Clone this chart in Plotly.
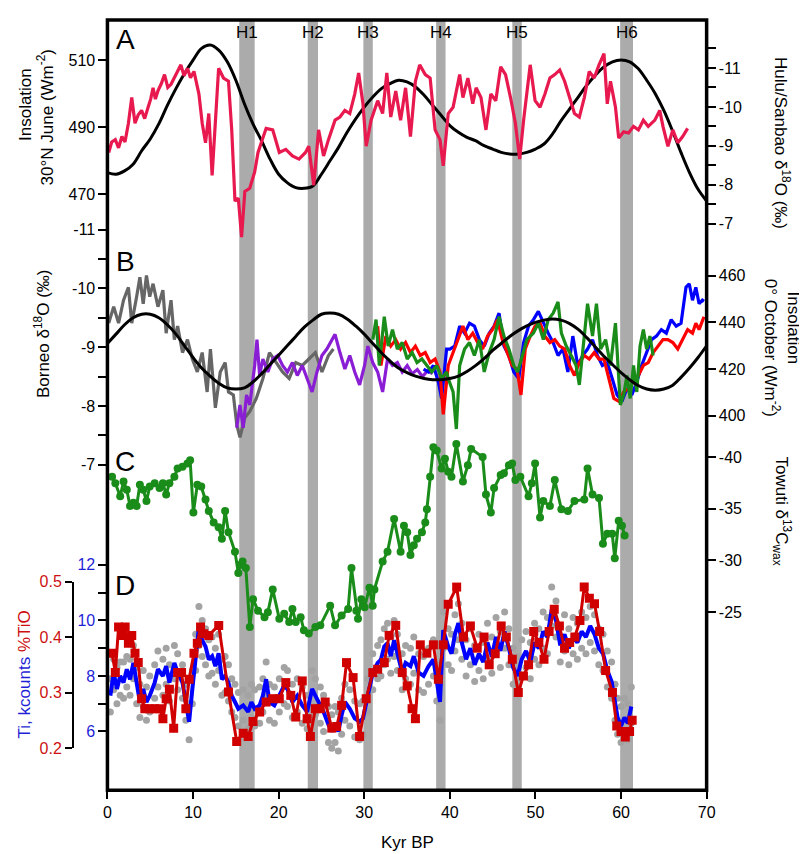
import plotly.graph_objects as go

# ---------------- DATA ----------------
heinrich_labels = ["H1", "H2", "H3", "H4", "H5", "H6"]
heinrich_start = [15.4, 23.4, 29.9, 38.4, 47.3, 59.9]
heinrich_end = [17.2, 24.6, 31.0, 39.5, 48.4, 61.4]

insol_kyr = list(range(0, 71))
insol_june30n = [476.5, 476, 477, 479, 483, 486.5, 491, 496.5, 501.5, 506, 510, 513.5, 514.5, 513, 509.5, 504,
                 497, 491, 486, 480.5, 476, 473.5, 472, 471.8, 472.5, 476, 480, 484, 488.5, 492.5, 496, 499,
                 501.5, 503, 504, 503.5, 502, 499.5, 496.5, 493.5, 490.5, 488.5, 487, 486, 484.5, 483.5, 482.5,
                 482, 482, 482.5, 483.5, 485, 488, 492, 495.5, 499, 502.5, 505.5, 508, 509.5, 510, 509.5, 507.5,
                 504, 500, 495, 489, 482.5, 476.5, 471.5, 468]
insol_oct0 = [431, 435, 439, 442, 443.5, 443.5, 442, 439, 435, 430, 425, 420.5, 417, 414, 412, 411.5, 412, 414.5,
              418, 422, 426, 430, 434, 438, 441, 443.5, 444, 443.5, 441.5, 438.5, 435, 431, 427, 423.5, 420.5,
              418.5, 417, 416, 415.5, 415.5, 416, 417, 419, 421.5, 424.5, 428, 431, 434, 436.5, 438.5, 440, 441,
              441.5, 441, 439.5, 437, 433.5, 429.5, 425.5, 422, 418.5, 415.5, 413, 411.5, 411, 411.5, 413, 416.5,
              420.5, 425, 430]

hulu = [(0.15, -8.83), (0.5, -9.1), (0.92, -9.16), (1.3, -8.95), (1.69, -9.24), (2.05, -9.1), (2.45, -9.58),
        (2.84, -10.24), (3.22, -9.58), (3.6, -9.8), (3.99, -9.91), (4.35, -9.7), (4.75, -9.99), (5.05, -10.2),
        (5.33, -10.49), (5.6, -10.2), (5.9, -10.41), (6.3, -10.6), (6.67, -10.83), (7.05, -10.5), (7.43, -10.58),
        (8.0, -10.85), (8.58, -11.08), (8.95, -10.8), (9.35, -10.99), (9.7, -10.75), (10.11, -10.91),
        (10.69, -10.33), (11.07, -9.58), (11.46, -9.08), (11.84, -9.83), (12.23, -8.24),
        (12.61, -9.58), (12.99, -10.99), (13.56, -10.74), (14.14, -10.66), (14.52, -9.41), (14.9, -7.58),
        (15.29, -7.66), (15.67, -6.66), (16.05, -7.83), (16.63, -7.91), (17.2, -8.33), (17.59, -8.83),
        (17.97, -9.08), (18.54, -9.45), (19.31, -9.41), (20.08, -8.83), (20.84, -8.91), (21.61, -8.74),
        (22.38, -8.66), (23.14, -8.83), (23.52, -8.99), (24.1, -7.99), (24.67, -9.41), (25.25, -8.74),
        (25.82, -9.16), (26.59, -9.66), (27.16, -9.74), (27.74, -9.91), (28.31, -9.83), (28.89, -10.33),
        (29.35, -10.87), (29.85, -10.08), (30.23, -8.99), (30.8, -9.66), (31.57, -10.16), (32.15, -9.83),
        (32.64, -10.87), (33.1, -9.74), (33.68, -10.41), (34.25, -9.66), (34.83, -10.49), (35.4, -9.24),
        (35.98, -10.66), (36.48, -11.08), (37.13, -10.83), (37.7, -10.74), (38.28, -9.41), (38.85, -9.16),
        (39.23, -8.49), (39.81, -9.83), (40.38, -9.99), (41.15, -10.83), (41.53, -10.24), (42.11, -10.74),
        (42.68, -10.08), (43.07, -10.49), (43.64, -10.24), (44.22, -9.41), (44.79, -10.33), (45.37, -10.16),
        (45.94, -11.03), (46.51, -10.83), (47.09, -10.24), (47.66, -9.58), (48.16, -8.66), (48.62, -9.66),
        (49.39, -11.08), (49.96, -10.16), (50.54, -9.99), (51.11, -10.33), (51.69, -10.74), (52.26, -10.83),
        (52.84, -10.95), (53.41, -10.66), (53.99, -10.24), (54.56, -9.83), (55.13, -9.74), (55.71, -10.24),
        (56.28, -10.91), (56.86, -10.74), (57.43, -11.08), (58.01, -11.37), (58.39, -10.08), (58.77, -10.66),
        (59.35, -9.99), (59.73, -9.2), (60.31, -9.36), (60.88, -9.33), (61.46, -9.5), (62.03, -9.41),
        (62.61, -9.66), (63.18, -9.5), (63.95, -9.66), (64.52, -9.91), (64.9, -9.5), (65.48, -8.99),
        (66.05, -9.41), (66.63, -9.08), (67.2, -9.24), (67.78, -9.45)]

borneo_gray = [(0.15, -9.41), (0.73, -9.69), (1.3, -9.41), (1.88, -9.8), (2.45, -10.02), (2.84, -9.41),
               (3.41, -9.86), (3.79, -10.19), (4.18, -9.74), (4.56, -10.22), (4.94, -9.86), (5.33, -10.08),
               (5.9, -9.69), (6.48, -9.97), (6.86, -9.24), (7.43, -9.8), (7.82, -9.13), (8.2, -9.36), (8.77, -8.91),
               (9.35, -9.13), (9.92, -8.8), (10.5, -8.58), (11.07, -8.91), (11.65, -8.24), (12.03, -8.97),
               (12.61, -7.97), (13.18, -8.58), (13.76, -8.74), (14.14, -8.24), (14.71, -8.19), (15.1, -7.69),
               (15.48, -7.47), (16.05, -7.8), (16.63, -7.91), (17.39, -8.13), (18.16, -8.47), (18.93, -8.91),
               (19.7, -8.74), (20.46, -8.58), (21.23, -8.47), (22.0, -8.74), (22.76, -8.69), (23.52, -8.8),
               (24.29, -8.91), (25.06, -8.58), (25.82, -8.86), (26.4, -8.97)]

borneo_purple = [(15.1, -7.63), (15.48, -8.02), (15.86, -7.63), (16.25, -8.19), (16.63, -8.02), (17.2, -8.69),
                 (17.47, -9.13), (17.78, -8.52), (18.16, -8.8), (18.74, -8.58), (19.31, -8.8), (19.89, -8.86),
                 (20.46, -8.69), (21.03, -8.58), (21.61, -8.74), (22.18, -8.52), (22.76, -8.69), (23.33, -8.47),
                 (23.91, -8.24), (24.48, -8.58), (25.06, -8.86), (25.63, -8.97), (26.21, -9.13), (26.59, -9.22),
                 (27.16, -8.91), (27.74, -8.63), (28.31, -8.86), (28.89, -8.58), (29.46, -8.36), (30.04, -8.69),
                 (30.42, -9.02), (30.99, -8.74), (31.57, -8.58), (32.15, -8.24), (32.72, -8.8), (33.3, -8.69),
                 (33.87, -8.74), (34.44, -8.58), (35.02, -8.69), (35.6, -8.55), (36.2, -8.62), (36.8, -8.5),
                 (37.4, -8.6), (38.0, -8.55)]

borneo_blue = [(36.93, -8.63), (37.51, -8.58), (38.08, -8.69), (38.66, -8.41), (39.04, -8.13), (39.62, -8.97),
               (40.0, -8.97), (40.57, -9.02), (41.15, -9.36), (41.72, -9.24), (42.3, -9.41), (42.87, -9.36),
               (43.45, -9.13), (44.02, -9.02), (44.6, -9.24), (45.17, -9.36), (45.75, -9.58), (46.32, -9.02),
               (46.9, -8.86), (47.47, -8.58), (48.05, -8.47), (48.62, -9.08), (49.2, -9.36), (49.77, -9.47),
               (50.34, -9.61), (50.92, -9.41), (51.49, -9.24), (52.07, -9.08), (52.64, -8.86), (53.22, -8.97),
               (53.79, -8.58), (54.37, -9.19), (54.94, -8.69), (55.52, -8.86), (56.09, -8.97), (56.67, -9.13),
               (57.24, -8.86), (57.82, -8.69), (58.39, -8.74), (58.97, -8.47), (59.54, -8.19), (60.11, -8.08),
               (60.69, -8.3), (61.26, -8.19), (61.84, -8.41), (62.41, -8.69), (62.99, -8.91), (63.56, -9.13),
               (64.14, -9.19), (64.71, -9.3), (65.29, -9.24), (65.86, -9.47), (66.44, -9.36), (67.01, -9.41),
               (67.59, -10.02), (67.97, -10.08), (68.35, -9.8), (68.74, -10.02), (69.12, -9.74), (69.5, -9.8),
               (69.69, -9.78)]

borneo_red = [(31.57, -9.36), (31.95, -8.69), (32.53, -9.19), (33.1, -9.02), (33.68, -9.13), (34.25, -8.97),
              (34.83, -9.08), (35.4, -8.91), (35.98, -9.02), (36.55, -8.86), (37.13, -8.91), (37.7, -8.74),
              (38.28, -8.8), (38.85, -8.58), (39.23, -7.86), (39.62, -8.52), (39.81, -8.69), (40.38, -8.91),
              (40.96, -9.13), (41.53, -9.36), (42.11, -9.13), (42.68, -9.24), (43.26, -9.08), (43.83, -8.97),
              (44.41, -9.19), (44.98, -9.3), (45.56, -9.47), (46.13, -9.13), (46.71, -8.91), (47.28, -8.69),
              (47.85, -8.63), (48.31, -8.19), (48.81, -8.97), (49.39, -9.19), (49.96, -9.36), (50.54, -9.41),
              (51.11, -9.19), (51.69, -9.08), (52.26, -9.13), (52.84, -9.02), (53.41, -8.97), (53.99, -8.69),
              (54.56, -8.52), (55.13, -8.74), (55.71, -8.86), (56.28, -8.8), (56.86, -8.91), (57.43, -8.8),
              (58.01, -8.8), (58.58, -8.47), (59.16, -8.13), (59.73, -8.08), (60.31, -8.24), (60.88, -8.3),
              (61.46, -8.41), (62.03, -8.52), (62.61, -8.69), (63.18, -8.74), (63.75, -8.91), (64.33, -9.02),
              (64.9, -9.13), (65.48, -9.13), (66.05, -9.08), (66.63, -8.97), (67.2, -9.13), (67.78, -9.3),
              (68.35, -9.24), (68.74, -9.41), (69.12, -9.3), (69.69, -9.52)]

borneo_green = [(31.0, -9.13), (31.38, -9.47), (31.76, -8.69), (32.34, -9.52), (32.8, -9.02), (33.3, -9.3),
                (33.87, -8.97), (34.44, -9.08), (35.02, -8.8), (35.59, -8.91), (36.17, -8.74), (36.74, -8.8),
                (37.32, -8.69), (37.89, -8.58), (38.47, -8.69), (39.04, -8.47), (39.62, -8.58), (39.81, -8.47),
                (40.38, -8.24), (40.76, -7.61), (41.15, -8.69), (41.72, -8.97), (42.3, -9.08), (42.87, -8.86),
                (43.45, -9.13), (44.02, -8.58), (44.6, -8.91), (45.17, -9.13), (45.75, -9.52), (46.32, -9.19),
                (46.9, -8.97), (47.47, -8.69), (47.93, -8.58), (49.0, -9.13), (49.77, -9.24), (50.34, -9.41),
                (50.92, -9.13), (51.49, -9.47), (52.07, -9.58), (52.64, -9.77), (53.03, -9.24), (53.6, -9.02),
                (54.18, -8.86), (54.75, -8.69), (55.13, -8.36), (55.52, -8.97), (56.09, -9.74), (56.67, -9.19),
                (57.13, -9.74), (57.62, -8.97), (58.2, -9.13), (58.77, -8.69), (59.35, -9.41), (59.92, -8.02),
                (60.31, -8.19), (60.69, -8.52), (61.07, -8.13), (61.46, -8.69), (61.84, -8.24), (62.22, -9.02),
                (62.61, -9.3), (62.99, -8.97), (63.37, -9.19), (63.75, -8.86)]

towuti = [(0.54, -38.1), (0.92, -37.46), (1.49, -36.2), (1.88, -37.63), (2.26, -36.84), (2.64, -35.25),
          (3.03, -35.57), (3.41, -35.25), (3.79, -37.31), (4.18, -36.84), (4.56, -35.73), (4.94, -37.15),
          (5.52, -37.46), (6.09, -36.99), (6.48, -37.46), (6.86, -36.36), (7.24, -37.46), (7.82, -38.1),
          (8.2, -38.89), (8.77, -39.05), (9.35, -39.37), (9.66, -39.68), (10.04, -34.62), (10.5, -37.31),
          (10.96, -37.15), (11.46, -35.89), (11.84, -34.78), (12.41, -33.67), (12.99, -33.19), (13.37, -32.09),
          (13.75, -34.78), (14.14, -32.72), (14.9, -30.82), (15.29, -28.77), (15.48, -29.55), (15.79, -29.87),
          (16.17, -29.24), (16.63, -23.54), (17.01, -26.23), (17.59, -25.12), (18.35, -24.49), (18.74, -24.96),
          (19.31, -27.18), (20.08, -24.33), (20.65, -24.81), (21.23, -24.02), (21.61, -25.28), (22.0, -24.02),
          (22.57, -24.49), (22.95, -23.23), (23.52, -22.91), (24.29, -23.54), (24.87, -23.7), (26.02, -25.6),
          (26.59, -23.7), (27.36, -24.65), (28.12, -25.28), (28.51, -29.24), (29.08, -25.12), (29.27, -24.33),
          (29.66, -26.23), (30.04, -25.44), (30.61, -27.34), (30.99, -25.6), (31.19, -27.18), (32.15, -29.87),
          (32.72, -30.82), (33.49, -33.99), (34.25, -30.82), (34.64, -33.35), (35.02, -32.72), (35.4, -30.5),
          (35.79, -31.45), (36.17, -32.09), (36.74, -32.72), (37.13, -33.67), (37.32, -34.94), (37.7, -38.1),
          (38.08, -40.95), (38.47, -40.63), (39.04, -38.89), (39.43, -39.84), (39.81, -38.58), (40.19, -38.1),
          (40.76, -41.27), (41.53, -37.63), (42.11, -39.21), (42.49, -40.79), (43.83, -40.0), (44.22, -36.36),
          (44.79, -34.62), (45.17, -36.99), (45.94, -38.26), (46.32, -38.42), (46.9, -39.21), (47.28, -39.37),
          (47.66, -37.78), (48.24, -38.1), (49.2, -36.2), (49.58, -37.46), (49.96, -39.37), (50.54, -34.14),
          (50.92, -35.73), (51.69, -35.25), (52.26, -37.78), (53.03, -34.94), (53.79, -34.78), (54.56, -35.73),
          (55.71, -35.89), (56.09, -38.89), (56.67, -36.36), (57.43, -36.04), (57.89, -31.61), (58.39, -32.56),
          (58.97, -32.56), (59.27, -30.19), (59.73, -33.83), (60.11, -33.35), (60.42, -32.4)]

# Ti (kcounts): kyr, smoothed value, raw high, raw low
ti_counts = [(0.34, 7.29, 7.9, 6.7), (0.73, 8.12, 8.6, 7.5), (1.11, 7.53, 8.3, 7.0), (1.49, 8.0, 8.5, 7.3),
             (1.88, 7.76, 8.5, 7.2), (2.26, 8.24, 8.7, 7.6), (2.64, 7.88, 8.6, 7.3), (3.03, 8.47, 9.1, 7.9),
             (3.41, 7.76, 8.3, 7.0), (3.79, 7.06, 7.7, 6.5), (4.18, 7.53, 8.2, 6.9), (4.56, 7.06, 7.6, 6.4),
             (4.94, 7.29, 8.0, 6.7), (5.52, 7.76, 8.4, 7.2), (5.9, 8.24, 8.9, 7.6), (6.48, 8.0, 8.6, 7.3),
             (6.86, 8.35, 9.0, 7.7), (7.24, 7.76, 8.4, 7.1), (7.82, 8.47, 9.1, 7.9), (8.2, 8.12, 8.8, 7.5),
             (8.77, 7.76, 8.4, 7.2), (9.16, 7.06, 7.7, 6.4), (9.54, 6.35, 7.0, 5.7), (9.92, 7.53, 8.2, 7.0),
             (10.31, 8.82, 9.5, 8.2), (10.69, 9.76, 10.5, 9.1), (11.07, 9.29, 10.0, 8.7), (11.46, 9.06, 9.7, 8.4),
             (11.84, 8.59, 9.3, 8.0), (12.23, 8.71, 9.4, 8.1), (12.61, 8.35, 9.0, 7.7), (12.99, 8.82, 9.5, 8.2),
             (13.37, 7.88, 8.6, 7.3), (13.75, 8.0, 8.7, 7.4), (14.14, 7.76, 8.4, 7.1), (14.52, 7.29, 7.9, 6.7),
             (14.9, 7.06, 7.7, 6.5), (15.29, 6.82, 7.4, 6.2), (15.86, 6.94, 7.5, 6.4), (16.44, 6.71, 7.3, 6.1),
             (16.82, 7.06, 7.7, 6.5), (17.2, 6.82, 7.5, 6.2), (17.78, 6.94, 7.6, 6.3), (18.16, 7.29, 7.9, 6.7),
             (18.54, 7.88, 8.5, 7.3), (18.93, 7.06, 7.7, 6.4), (19.5, 6.94, 7.6, 6.3), (20.08, 7.29, 7.9, 6.7),
             (20.65, 7.65, 8.3, 7.0), (21.03, 7.53, 8.2, 6.9), (21.61, 7.06, 7.7, 6.5), (22.18, 7.29, 7.9, 6.7),
             (22.76, 6.94, 7.6, 6.3), (23.33, 6.71, 7.3, 6.1), (23.91, 7.53, 8.2, 6.9), (24.29, 7.29, 7.9, 6.6),
             (24.87, 6.94, 7.6, 6.3), (25.25, 6.71, 7.3, 6.0), (25.82, 6.24, 6.9, 5.6), (26.21, 6.0, 6.6, 5.4),
             (26.59, 6.24, 6.9, 5.6), (26.97, 6.0, 6.7, 5.3), (27.36, 6.59, 7.2, 5.9), (27.74, 7.06, 7.7, 6.4),
             (28.31, 6.82, 7.5, 6.2), (28.89, 6.47, 7.1, 5.8), (29.46, 6.35, 7.0, 5.7), (29.85, 6.47, 7.1, 5.9),
             (30.42, 7.29, 7.9, 6.7), (31.0, 8.12, 8.8, 7.5), (31.57, 8.47, 9.1, 7.9), (31.95, 8.59, 9.3, 8.0),
             (32.34, 9.06, 9.7, 8.4), (32.72, 9.18, 9.9, 8.6), (33.1, 8.71, 9.4, 8.1), (33.49, 9.29, 10.0, 8.7),
             (33.87, 8.82, 9.5, 8.2), (34.44, 8.12, 8.8, 7.5), (34.83, 8.47, 9.1, 7.9), (35.4, 8.35, 9.0, 7.7),
             (35.79, 8.71, 9.4, 8.1), (36.36, 8.12, 8.8, 7.5), (36.93, 8.0, 8.7, 7.4), (37.51, 8.35, 9.0, 7.7),
             (38.08, 8.59, 9.3, 8.0), (38.47, 7.76, 8.4, 7.1), (38.85, 7.06, 7.7, 6.4), (39.23, 9.65, 10.3, 9.0),
             (39.81, 9.06, 9.7, 8.4), (40.2, 8.8, 9.5, 8.2), (40.6, 9.5, 10.2, 8.9), (41.0, 9.9, 10.6, 9.3),
             (41.4, 9.2, 9.9, 8.6), (41.9, 8.6, 9.3, 8.0), (42.4, 9.0, 9.7, 8.4), (42.9, 8.4, 9.1, 7.8),
             (43.4, 8.8, 9.5, 8.2), (43.9, 8.5, 9.2, 7.9), (44.4, 9.2, 9.9, 8.6), (44.9, 8.7, 9.4, 8.1),
             (45.4, 9.4, 10.1, 8.8), (45.9, 8.9, 9.6, 8.3), (46.4, 9.6, 10.3, 9.0), (46.9, 9.0, 9.7, 8.4),
             (47.4, 8.3, 9.0, 7.7), (47.9, 8.0, 8.7, 7.4), (48.4, 8.6, 9.3, 8.0), (48.9, 8.9, 9.6, 8.3),
             (49.4, 8.5, 9.2, 7.9), (49.9, 9.2, 9.9, 8.6), (50.4, 9.0, 9.7, 8.4), (50.9, 9.6, 10.3, 9.0),
             (51.4, 9.4, 10.1, 8.8), (51.9, 10.4, 11.2, 9.8), (52.4, 10.0, 10.7, 9.4), (52.9, 9.1, 9.8, 8.5),
             (53.4, 9.5, 10.2, 8.9), (53.9, 9.0, 9.7, 8.4), (54.4, 9.4, 10.1, 8.8), (54.9, 9.2, 9.9, 8.6),
             (55.4, 9.6, 10.3, 9.0), (55.9, 9.4, 10.1, 8.8), (56.4, 9.8, 10.5, 9.2), (56.9, 9.5, 10.2, 8.9),
             (57.4, 9.0, 9.7, 8.4), (57.9, 8.8, 9.5, 8.2), (58.4, 8.2, 8.9, 7.6), (58.9, 7.8, 8.5, 7.2),
             (59.3, 7.0, 7.7, 6.4), (59.6, 6.5, 7.2, 5.9), (60.0, 6.2, 6.9, 5.6), (60.4, 6.5, 7.2, 5.9),
             (60.8, 6.3, 7.0, 5.7), (61.2, 6.9, 7.6, 6.3)]

tio_pct = [(0.54, 0.371), (0.92, 0.336), (1.3, 0.418), (1.69, 0.403), (2.07, 0.418), (2.45, 0.389), (2.84, 0.403),
           (3.22, 0.371), (3.6, 0.354), (3.99, 0.289), (4.37, 0.271), (4.94, 0.271), (5.52, 0.271), (6.09, 0.271),
           (6.48, 0.253), (6.86, 0.289), (7.24, 0.306), (7.74, 0.236), (8.2, 0.336), (8.66, 0.336), (9.16, 0.271),
           (9.54, 0.324), (10.11, 0.371), (10.5, 0.389), (10.88, 0.418), (11.26, 0.406), (11.84, 0.403),
           (13.0, 0.421), (14.14, 0.301), (15.1, 0.212), (15.86, 0.227), (16.44, 0.221), (17.01, 0.248),
           (17.78, 0.265), (18.54, 0.283), (19.31, 0.289), (20.08, 0.289), (20.84, 0.318), (21.42, 0.295),
           (22.0, 0.256), (22.76, 0.321), (23.33, 0.253), (23.71, 0.221), (24.29, 0.271), (24.87, 0.271),
           (25.44, 0.283), (26.21, 0.236), (26.78, 0.239), (27.36, 0.277), (27.93, 0.354), (28.7, 0.327),
           (29.46, 0.221), (30.23, 0.289), (31.0, 0.336), (31.57, 0.342), (32.34, 0.354), (32.91, 0.403),
           (33.68, 0.421), (34.44, 0.336), (35.02, 0.312), (35.59, 0.271), (35.98, 0.253), (36.55, 0.386),
           (37.32, 0.371), (38.08, 0.386), (38.66, 0.324), (39.23, 0.386), (39.81, 0.459), (40.8, 0.49),
           (41.6, 0.40), (42.4, 0.42), (43.2, 0.38), (44.0, 0.40), (44.6, 0.35), (45.3, 0.37), (46.0, 0.42),
           (46.6, 0.40), (47.3, 0.36), (48.0, 0.30), (48.6, 0.33), (49.2, 0.35), (49.8, 0.41), (50.4, 0.39),
           (51.0, 0.36), (51.6, 0.41), (52.2, 0.45), (52.8, 0.42), (53.4, 0.38), (54.0, 0.39), (54.6, 0.40),
           (55.2, 0.43), (55.7, 0.49), (56.3, 0.47), (56.9, 0.46), (57.5, 0.41), (58.2, 0.34), (59.0, 0.30),
           (59.5, 0.24), (60.0, 0.23), (60.5, 0.22), (61.0, 0.23), (61.3, 0.25)]

x_ticks = [0, 10, 20, 30, 40, 50, 60, 70]

# ---------------- LAYOUT HELPERS ----------------
W, H = 807, 854
PX_L, PX_R, PX_T, PX_B = 97, 706, 4, 790
FONT = "Liberation Sans, Arial, sans-serif"


def fx(p):
    return p / W


def fy(p):
    return 1 - p / H


def span(v1, p1, v2, p2):
    s = (p2 - p1) / (v2 - v1)
    return [v1 + (PX_B - p1) / s, v1 + (PX_T - p1) / s]


def col(pairs, i):
    return [p[i] for p in pairs]


fig = go.Figure()

# Panel A
fig.add_trace(go.Scatter(x=insol_kyr, y=insol_june30n, yaxis="y", mode="lines",
                         line=dict(color="black", width=3, shape="spline")))
fig.add_trace(go.Scatter(x=col(hulu, 0), y=col(hulu, 1), yaxis="y2", mode="lines",
                         line=dict(color="#e8194e", width=3.2)))
# Panel B
fig.add_trace(go.Scatter(x=insol_kyr, y=insol_oct0, yaxis="y4", mode="lines",
                         line=dict(color="black", width=3, shape="spline")))
fig.add_trace(go.Scatter(x=col(borneo_gray, 0), y=col(borneo_gray, 1), yaxis="y3", mode="lines",
                         line=dict(color="#666666", width=3.2)))
fig.add_trace(go.Scatter(x=col(borneo_purple, 0), y=col(borneo_purple, 1), yaxis="y3", mode="lines",
                         line=dict(color="#8a1ed4", width=3.2)))
fig.add_trace(go.Scatter(x=col(borneo_blue, 0), y=col(borneo_blue, 1), yaxis="y3", mode="lines",
                         line=dict(color="#0000ff", width=3.2)))
fig.add_trace(go.Scatter(x=col(borneo_red, 0), y=col(borneo_red, 1), yaxis="y3", mode="lines",
                         line=dict(color="#ff0000", width=3.2)))
fig.add_trace(go.Scatter(x=col(borneo_green, 0), y=col(borneo_green, 1), yaxis="y3", mode="lines",
                         line=dict(color="#1a8c1a", width=3.2)))
# Panel D
fig.add_trace(go.Scatter(x=col(ti_counts, 0) + col(ti_counts, 0), y=col(ti_counts, 2) + col(ti_counts, 3),
                         yaxis="y6", mode="markers", marker=dict(color="#a3a3a3", size=7)))
fig.add_trace(go.Scatter(x=col(ti_counts, 0), y=col(ti_counts, 1), yaxis="y6", mode="lines",
                         line=dict(color="#0000ff", width=4)))
fig.add_trace(go.Scatter(x=col(tio_pct, 0), y=col(tio_pct, 1), yaxis="y7", mode="lines+markers",
                         line=dict(color="#d00000", width=3),
                         marker=dict(symbol="square", size=9, color="#d00000")))
# Panel C
fig.add_trace(go.Scatter(x=col(towuti, 0), y=col(towuti, 1), yaxis="y5", mode="lines+markers",
                         line=dict(color="#1a8c1a", width=3), marker=dict(color="#1a8c1a", size=8)))
# dummy trace for bracket axis
fig.add_trace(go.Scatter(x=[None], y=[None], yaxis="y8", mode="markers"))

ydom = [fy(PX_B), fy(PX_T)]
tick_common = dict(ticks="outside", ticklen=8, tickwidth=2, tickcolor="black", showgrid=False,
                   zeroline=False, showline=False, tickfont=dict(size=16, color="black", family=FONT))


def minor(vals):
    return dict(tickvals=vals, ticks="outside", ticklen=8, tickwidth=2, tickcolor="black", showgrid=False)


layout = dict(
    width=W, height=H, margin=dict(l=0, r=0, t=0, b=0), showlegend=False,
    plot_bgcolor="rgba(0,0,0,0)", paper_bgcolor="white", font=dict(family=FONT, color="black"),
    xaxis=dict(domain=[fx(PX_L), fx(PX_R)], range=[0, 70], tickvals=x_ticks,
               ticktext=[str(v) for v in x_ticks], anchor="y", **tick_common),
    yaxis=dict(domain=ydom, range=span(470, 182, 510, 45), tickvals=[470, 490, 510],
               ticktext=["470", "490", "510"], anchor="x", side="left", **tick_common),
    yaxis2=dict(overlaying="y", anchor="x", side="right", range=span(-11, 53, -7, 212),
                tickvals=[-11, -10, -9, -8, -7], ticktext=["-11", "-10", "-9", "-8", "-7"],
                minor=minor([-11.5, -10.5, -9.5, -8.5, -7.5]), **tick_common),
    yaxis3=dict(overlaying="y", anchor="x", side="left", range=span(-11, 218, -7, 458),
                tickvals=[-11, -10, -9, -8, -7], ticktext=["-11", "-10", "-9", "-8", "-7"],
                minor=minor([-10.5, -9.5, -8.5, -7.5]), **tick_common),
    yaxis4=dict(overlaying="y", anchor="x", side="right", range=span(460, 265, 400, 408),
                tickvals=[400, 420, 440, 460], ticktext=["400", "420", "440", "460"], **tick_common),
    yaxis5=dict(overlaying="y", anchor="x", side="right", range=span(-40, 450, -25, 608),
                tickvals=[-40, -35, -30, -25], ticktext=["-40", "-35", "-30", "-25"], **tick_common),
    yaxis6=dict(overlaying="y", anchor="x", side="left", range=span(12, 560, 6, 730),
                tickvals=[6, 8, 10, 12], ticktext=["6", "8", "10", "12"], minor=minor([7, 9, 11]),
                **{k: v for k, v in tick_common.items() if k != "tickfont"},
                tickfont=dict(size=16, color="#1f1fd6", family=FONT)),
    yaxis7=dict(overlaying="y", anchor="x", side="left", range=span(0.5, 577, 0.2, 747), visible=False),
    yaxis8=dict(domain=[fy(747), fy(577)], range=[0.2, 0.5], anchor="free", position=fx(62), side="left",
                showline=True, linecolor="black", linewidth=2, ticks="outside", ticklen=7, tickwidth=2,
                tickcolor="black", tickvals=[0.2, 0.3, 0.4, 0.5], ticktext=["0.2", "0.3", "0.4", "0.5"],
                showgrid=False, zeroline=False, tickfont=dict(size=16, color="#cc1111", family=FONT)),
)
fig.update_layout(**layout)

shapes = []
for s, e in zip(heinrich_start, heinrich_end):
    shapes.append(dict(type="rect", xref="x", yref="paper", x0=s, x1=e, y0=fy(PX_B), y1=fy(PX_T),
                       fillcolor="#ababab", line=dict(width=0), layer="below"))
shapes.append(dict(type="rect", xref="paper", yref="paper", x0=fx(PX_L), x1=fx(PX_R), y0=fy(PX_B),
                   y1=fy(PX_T), line=dict(color="black", width=3.5), fillcolor="rgba(0,0,0,0)", layer="above"))
fig.update_layout(shapes=shapes)

ann = []
for lab, s, e in zip(heinrich_labels, heinrich_start, heinrich_end):
    ann.append(dict(x=(s + e) / 2, xref="x", y=fy(17), yref="paper", text=lab, showarrow=False,
                    font=dict(size=17), xanchor="center", yanchor="middle"))
for lab, py in zip(["A", "B", "C", "D"], [24, 250, 455, 581]):
    ann.append(dict(x=fx(115), y=fy(py), xref="paper", yref="paper", text=lab, showarrow=False,
                    font=dict(size=28), xanchor="center", yanchor="middle"))


def title(text, px, py, angle):
    return dict(x=fx(px), y=fy(py), xref="paper", yref="paper", text=text, showarrow=False,
                textangle=angle, font=dict(size=17), xanchor="center", yanchor="middle")


ann += [
    title("Insolation", 13, 90, -90),
    title("30°N June (Wm<sup>-2</sup>)", 34, 103, -90),
    title("Borneo δ<sup>18</sup>O (‰)", 30, 324, -90),
    title("<span style='color:#1f1fd6'>Ti, kcounts</span> <span style='color:#cc1111'>%TiO</span>", 13, 672, -90),
    title("Hulu/Sanbao δ<sup>18</sup>O (‰)", 782, 130, 90),
    title("Insolation", 794, 318, 90),
    title("0° October (Wm<sup>-2</sup>)", 772, 338, 90),
    title("Towuti δ<sup>13</sup>C<sub>wax</sub>", 782, 505, 90),
    title("Kyr BP", 402, 843, 0),
]
fig.update_layout(annotations=ann)

fig.write_html("out.html")
